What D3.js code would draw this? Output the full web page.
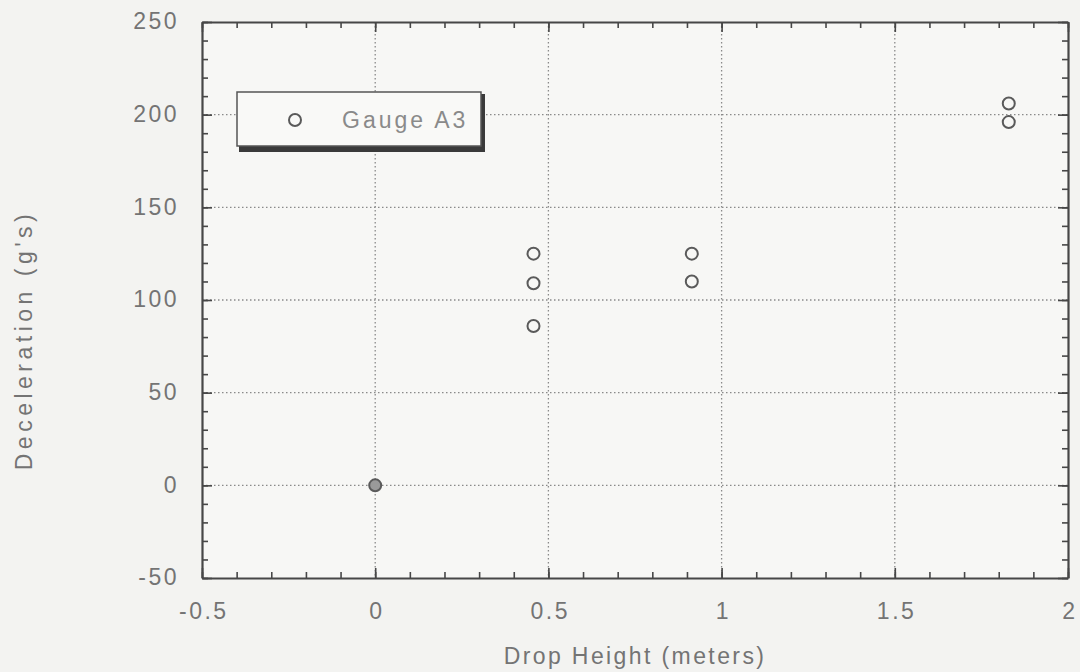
<!DOCTYPE html>
<html>
<head>
<meta charset="utf-8">
<script src="https://cdn.jsdelivr.net/npm/d3@7"></script>
<style>
  html, body { margin: 0; padding: 0; background: #f3f3f1; }
  svg { display: block; }
  text { font-family: "Liberation Sans", Arial, sans-serif; }
</style>
</head>
<body>
<svg id="chart" width="1080" height="672"></svg>
<script>
// Peak deceleration measured by gauge A3 for each drop height
const dropHeights = [0, 0.457, 0.457, 0.457, 0.914, 0.914, 1.829, 1.829];
const decelerations = [0, 125, 109, 86, 125, 110, 206, 196];
const seriesName = "Gauge A3";

const xTicks = [-0.5, 0, 0.5, 1, 1.5, 2];
const yTicks = [-50, 0, 50, 100, 150, 200, 250];
const xMinorTicks = d3.range(-0.5, 2.0001, 0.1);
const yMinorTicks = d3.range(-50, 250.001, 10);

const svg = d3.select("#chart");
const margin = { left: 202, right: 1068, top: 22, bottom: 578 };

const x = d3.scaleLinear().domain([-0.5, 2]).range([margin.left, margin.right]);
const y = d3.scaleLinear().domain([-50, 250]).range([margin.bottom, margin.top]);

const axisColor = "#474747";
const textColor = "#747474";
const labelSize = 23;

// plot background
svg.append("rect")
  .attr("x", margin.left).attr("y", margin.top)
  .attr("width", margin.right - margin.left).attr("height", margin.bottom - margin.top)
  .attr("fill", "#f7f7f5");

// dotted grid at interior major ticks
const grid = svg.append("g").attr("stroke", "#8a8a8a").attr("stroke-width", 1.3)
  .attr("stroke-dasharray", "1.5,2.5");
grid.selectAll("line.gx").data(xTicks.slice(1, -1)).join("line")
  .attr("x1", d => x(d)).attr("x2", d => x(d))
  .attr("y1", margin.top).attr("y2", margin.bottom);
grid.selectAll("line.gy").data(yTicks.slice(1, -1)).join("line")
  .attr("y1", d => y(d)).attr("y2", d => y(d))
  .attr("x1", margin.left).attr("x2", margin.right);

// axes with inward ticks on all four sides
function styleAxis(g) {
  g.selectAll(".domain").attr("stroke", axisColor).attr("stroke-width", 2.2);
  g.selectAll(".tick line").attr("stroke", axisColor).attr("stroke-width", 1.6);
}
function styleLabels(g) {
  g.selectAll("text").attr("fill", textColor).attr("font-size", labelSize)
    .attr("letter-spacing", 2.5).attr("font-family", "Liberation Sans, Arial, sans-serif");
}
const majorLen = 10, minorLen = 6;

// minor ticks
function minor(axisGen, transform, values) {
  svg.append("g").attr("transform", transform)
    .call(axisGen.tickValues(values).tickSizeInner(-minorLen).tickSizeOuter(0).tickFormat(""))
    .call(styleAxis)
    .call(g => g.select(".domain").remove());
}
minor(d3.axisBottom(x), `translate(0,${margin.bottom})`, xMinorTicks);
minor(d3.axisTop(x), `translate(0,${margin.top})`, xMinorTicks);
minor(d3.axisLeft(y), `translate(${margin.left},0)`, yMinorTicks);
minor(d3.axisRight(y), `translate(${margin.right},0)`, yMinorTicks);

// major ticks and labels
svg.append("g").attr("transform", `translate(0,${margin.bottom})`)
  .call(d3.axisBottom(x).tickValues(xTicks).tickSizeInner(-majorLen).tickSizeOuter(0).tickPadding(25).tickFormat(d => String(d)))
  .call(styleAxis)
  .call(styleLabels)
  .call(g => g.selectAll("text").attr("dx", 1.3));
svg.append("g").attr("transform", `translate(0,${margin.top})`)
  .call(d3.axisTop(x).tickValues(xTicks).tickSizeInner(-majorLen).tickSizeOuter(0).tickFormat(""))
  .call(styleAxis);
svg.append("g").attr("transform", `translate(${margin.left},0)`)
  .call(d3.axisLeft(y).tickValues(yTicks).tickSizeInner(-majorLen).tickSizeOuter(0).tickPadding(23).tickFormat(d => String(d)))
  .call(styleAxis)
  .call(styleLabels)
  .call(g => g.selectAll("text").attr("dy", "0.3em"));
svg.append("g").attr("transform", `translate(${margin.right},0)`)
  .call(d3.axisRight(y).tickValues(yTicks).tickSizeInner(-majorLen).tickSizeOuter(0).tickFormat(""))
  .call(styleAxis);

// axis titles
svg.append("text")
  .attr("x", (margin.left + margin.right) / 2).attr("y", 664)
  .attr("text-anchor", "middle").attr("fill", textColor).attr("font-size", labelSize)
  .attr("letter-spacing", 2.4)
  .text("Drop Height (meters)");
svg.append("text")
  .attr("transform", "translate(32,340) rotate(-90)")
  .attr("text-anchor", "middle").attr("fill", textColor).attr("font-size", labelSize)
  .attr("letter-spacing", 4.5)
  .text("Deceleration (g's)");

// data markers
const points = dropHeights.map((h, i) => ({ h, v: decelerations[i] }));
svg.append("g").selectAll("circle").data(points).join("circle")
  .attr("cx", d => x(d.h)).attr("cy", d => y(d.v)).attr("r", 6)
  .attr("fill", d => d.v === 0 ? "#9a9a9a" : "none")
  .attr("stroke", "#5a5a5a").attr("stroke-width", 2);

// legend box with heavy shadow edge
const lg = svg.append("g");
lg.append("rect").attr("x", 239).attr("y", 94).attr("width", 246).attr("height", 58)
  .attr("fill", "#3a3a3a");
lg.append("rect").attr("x", 237).attr("y", 92).attr("width", 244).attr("height", 54)
  .attr("fill", "#f9f9f7").attr("stroke", "#555").attr("stroke-width", 1.5);
lg.append("circle").attr("cx", 295).attr("cy", 120).attr("r", 6)
  .attr("fill", "none").attr("stroke", "#5a5a5a").attr("stroke-width", 2);
lg.append("text").attr("x", 342).attr("y", 128)
  .attr("fill", "#8a8a8a").attr("font-size", labelSize).attr("letter-spacing", 3)
  .text(seriesName);
</script>
</body>
</html>
